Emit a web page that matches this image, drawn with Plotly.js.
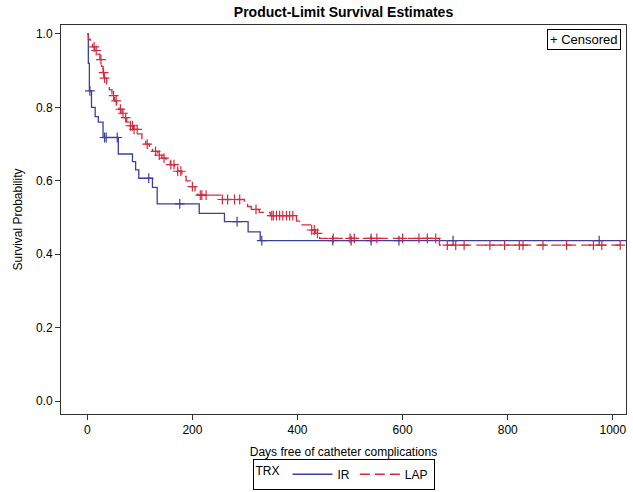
<!DOCTYPE html>
<html>
<head>
<meta charset="utf-8">
<script src="https://cdn.plot.ly/plotly-3.0.1.min.js"></script>
<style>html,body{margin:0;padding:0;background:#fff;}#chart{width:633px;height:492px;}</style>
</head>
<body>
<div id="chart"></div>
<script>
// IR group: Kaplan-Meier steps (day, survival) and censor days
var irTimes = [0, 2, 4, 8, 15, 21, 30, 59, 86, 92, 98, 124, 133, 213, 261, 306, 329];
var irSurv  = [1.0, 0.92, 0.845, 0.80, 0.775, 0.76, 0.718, 0.673, 0.652, 0.63, 0.607, 0.582, 0.537, 0.511, 0.489, 0.461, 0.437];
var irCensor = [5, 33, 36, 57, 117, 176, 285, 332, 467, 502, 540, 593, 696, 974];

// LAP group
var lapTimes = [0, 2, 6, 10, 14, 19, 24, 27, 30, 33, 37, 42, 47, 52, 56, 60, 66, 70, 75, 79, 88, 96, 104, 111, 118, 124, 134, 142, 150, 158, 166, 172, 180, 188, 196, 205, 210, 254, 299, 305, 312, 327, 348, 398, 404, 425, 434, 442, 670];
var lapSurv  = [1.0, 0.985, 0.975, 0.965, 0.955, 0.945, 0.930, 0.912, 0.895, 0.880, 0.862, 0.848, 0.832, 0.818, 0.806, 0.795, 0.784, 0.772, 0.760, 0.750, 0.740, 0.728, 0.714, 0.700, 0.690, 0.680, 0.670, 0.662, 0.652, 0.644, 0.635, 0.626, 0.612, 0.600, 0.584, 0.572, 0.561, 0.549, 0.540, 0.530, 0.522, 0.514, 0.505, 0.490, 0.480, 0.466, 0.457, 0.443, 0.425];
var lapCensor = [13, 17, 26, 31, 33, 50, 55, 63, 68, 73, 82, 86, 89, 95, 114, 130, 137, 146, 159, 165, 172, 178, 200, 215, 218, 226, 257, 267, 280, 290, 321, 351, 354, 360, 366, 372, 379, 385, 391, 427, 432, 438, 468, 500, 508, 540, 551, 600, 631, 647, 663, 685, 701, 717, 766, 794, 822, 829, 867, 912, 963, 979, 1014];

var endDay = 1025;
var xTicks = [0, 200, 400, 600, 800, 1000];
var yTicks = [0.0, 0.2, 0.4, 0.6, 0.8, 1.0];
var groupNames = ['IR', 'LAP'];

var blue = '#3d3f9e';
var red = '#d42a3c';

function survAt(times, surv, t) {
  var v = surv[0];
  for (var i = 0; i < times.length; i++) { if (times[i] <= t) v = surv[i]; }
  return v;
}
function stepLine(times, surv) {
  return {x: times.concat([endDay]), y: surv.concat([surv[surv.length - 1]])};
}

var irL = stepLine(irTimes, irSurv);
var lapL = stepLine(lapTimes, lapSurv);

var traces = [
  {x: irL.x, y: irL.y, mode: 'lines', line: {shape: 'hv', color: blue, width: 1.3}, name: groupNames[0], showlegend: true},
  {x: lapL.x, y: lapL.y, mode: 'lines', line: {shape: 'hv', color: red, width: 1.3, dash: '10px,5px'}, name: groupNames[1], showlegend: true},
  {x: irCensor, y: irCensor.map(function(t){return survAt(irTimes, irSurv, t);}), mode: 'markers',
   marker: {symbol: 'cross-thin-open', size: 7, line: {color: blue, width: 1.2}, color: blue}, showlegend: false, hoverinfo: 'skip'},
  {x: lapCensor, y: lapCensor.map(function(t){return survAt(lapTimes, lapSurv, t);}), mode: 'markers',
   marker: {symbol: 'cross-thin-open', size: 7, line: {color: red, width: 1.2}, color: red}, showlegend: false, hoverinfo: 'skip'}
];

var fontFam = '"Liberation Sans", Arial, sans-serif';
var layout = {
  width: 633, height: 492,
  margin: {l: 61, r: 7, t: 25, b: 78, autoexpand: false},
  paper_bgcolor: '#fff', plot_bgcolor: '#fff',
  font: {family: fontFam, size: 12, color: '#000'},
  title: {text: '<b>Product-Limit Survival Estimates</b>', font: {family: fontFam, size: 14, color: '#000'}, x: 0.5, xref: 'paper', y: 0.976, yanchor: 'middle'},
  xaxis: {
    range: [-50, 1025], tickvals: xTicks, ticktext: xTicks.map(String), automargin: false,
    showgrid: false, zeroline: false, showline: true, mirror: true, linecolor: '#333', linewidth: 1,
    ticks: 'outside', ticklen: 5, tickcolor: '#333',
    tickfont: {family: fontFam, size: 12, color: '#000'},
    title: {text: 'Days free of catheter complications', font: {family: fontFam, size: 12, color: '#000'}, standoff: 11}
  },
  yaxis: {
    range: [-0.0354, 1.0245], tickvals: yTicks, ticktext: yTicks.map(function(v){return v.toFixed(1);}), automargin: false,
    showgrid: false, zeroline: false, showline: true, mirror: true, linecolor: '#333', linewidth: 1,
    ticks: 'outside', ticklen: 5, tickcolor: '#333',
    tickfont: {family: fontFam, size: 12, color: '#000'},
    title: {text: 'Survival Probability', font: {family: fontFam, size: 12, color: '#000'}, standoff: 10}
  },
  legend: {
    orientation: 'h', x: 0.5, xanchor: 'center', xref: 'paper', y: -0.115, yanchor: 'top',
    bordercolor: '#000', borderwidth: 1, bgcolor: '#fff',
    title: {text: 'TRX', side: 'left', font: {family: fontFam, size: 12, color: '#000'}},
    font: {family: fontFam, size: 12, color: '#000'},
    tracegroupgap: 0, itemwidth: 40
  },
  annotations: [{
    text: '+ Censored', xref: 'paper', yref: 'paper', x: 0.992, y: 0.99, xanchor: 'right', yanchor: 'top',
    showarrow: false, bordercolor: '#000', borderwidth: 1, borderpad: 2, bgcolor: '#fff',
    font: {family: fontFam, size: 13, color: '#000'}
  }]
};

Plotly.newPlot('chart', traces, layout, {displayModeBar: false, staticPlot: true});
</script>
</body>
</html>
